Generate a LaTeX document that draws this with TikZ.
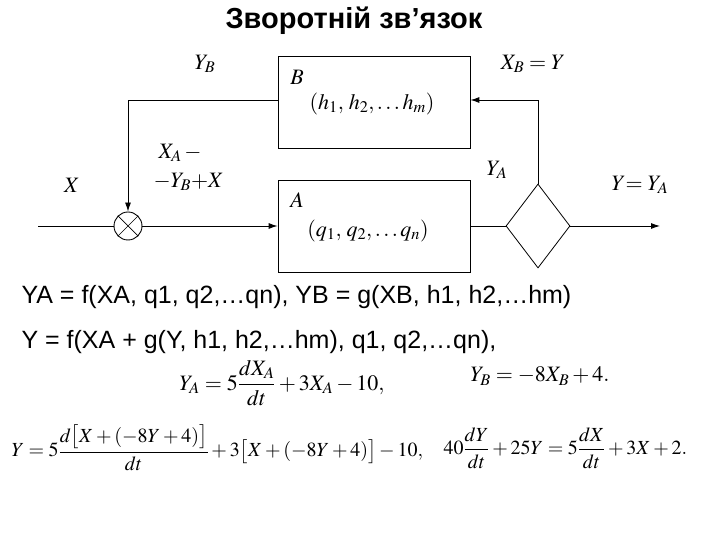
\documentclass[tikz,border=0pt]{standalone}
\usepackage{amsmath}
\usepackage{mathptmx}
\usepackage{fontspec}
\setmainfont{Liberation Sans}
\usetikzlibrary{arrows.meta,shapes.geometric}
\begin{document}
\begin{tikzpicture}[x=1pt,y=1pt,
  blk/.style={draw,line width=0.8pt,minimum width=192pt,minimum height=92pt},
  ln/.style={line width=0.9pt},
  arr/.style={ln,-{Latex[length=9pt,width=6pt]}},
  lab/.style={font=\fontsize{22}{24}\selectfont},
  txt/.style={anchor=west,font=\fontsize{25}{28}\selectfont},
  eq/.style={font=\fontsize{20}{24}\selectfont}]
\useasboundingbox (0,0) rectangle (720,540);
\node[font=\bfseries\fontsize{29}{32}\selectfont] (title) at (354,519) {Зворотній зв’язок};
\node[blk] (B) at (374,438) {};
\node[blk] (A) at (374,314) {};
\node[draw,circle,ln,minimum size=28pt,inner sep=0pt] (S) at (128,314) {};
\draw[line width=0.7pt] (S.north west)--(S.south east) (S.north east)--(S.south west);
\node[draw,diamond,line width=0.8pt,minimum width=64pt,minimum height=84pt,inner sep=0pt] (D) at (538,314) {};
\coordinate (in) at (38,314);
\coordinate (out) at (660,314);
\coordinate (bl) at (128,440);
\coordinate (br) at (538,440);
\draw[ln] (in)--(S.west);
\draw[arr] (S.east)--(A.west);
\draw[ln] (A.east)--(D.west);
\draw[arr] (D.east)--(out);
\draw[arr] (D.north)--(br)--(B.east|-br);
\draw[arr] (B.west|-bl)--(bl)--(S.north);
\node[lab] (yb) at (205,476) {$Y_B$};
\node[lab] (xb) at (533,476) {$X_B = Y$};
\node[lab,anchor=west] (xa1) at (155,387) {$X_A\,-$};
\node[lab,anchor=west] (xa2) at (150,358) {$-Y_B{+}X$};
\node[lab] (x) at (72,355) {$X$};
\node[lab] (ya) at (497,370) {$Y_A$};
\node[lab] (y) at (640,355) {$Y{=}\;Y_A$};
\node[lab] (bt) at (297,463) {$B$};
\node[lab] (ht) at (372,436) {$(h_1,\,h_2,\ldots h_m)$};
\node[lab] (at) at (297,340) {$A$};
\node[lab] (qt) at (368,309) {$(q_1,\,q_2,\ldots q_n)$};
\node[txt] (t1) at (18,243) {YA = f(XA, q1, q2,…qn), YB = g(XB, h1, h2,…hm)};
\node[txt] (t2) at (18,198) {Y = f(XA + g(Y, h1, h2,…hm), q1, q2,…qn),};
\node[font=\fontsize{22}{26}\selectfont] (e1) at (282,157) {$Y_A = 5\dfrac{dX_A}{dt} + 3X_A - 10,$};
\node[font=\fontsize{22}{26}\selectfont] (e2) at (540,164) {$Y_B = -8X_B + 4.$};
\node[eq,anchor=west] (e3) at (8,92) {$Y = 5\dfrac{d\big[X + (-8Y+4)\big]}{dt} + 3\big[X + (-8Y+4)\big] - 10,$};
\node[eq,anchor=west] (e4) at (440,92) {$40\dfrac{dY}{dt} + 25Y = 5\dfrac{dX}{dt} + 3X + 2.$};
\end{tikzpicture}
\end{document}
